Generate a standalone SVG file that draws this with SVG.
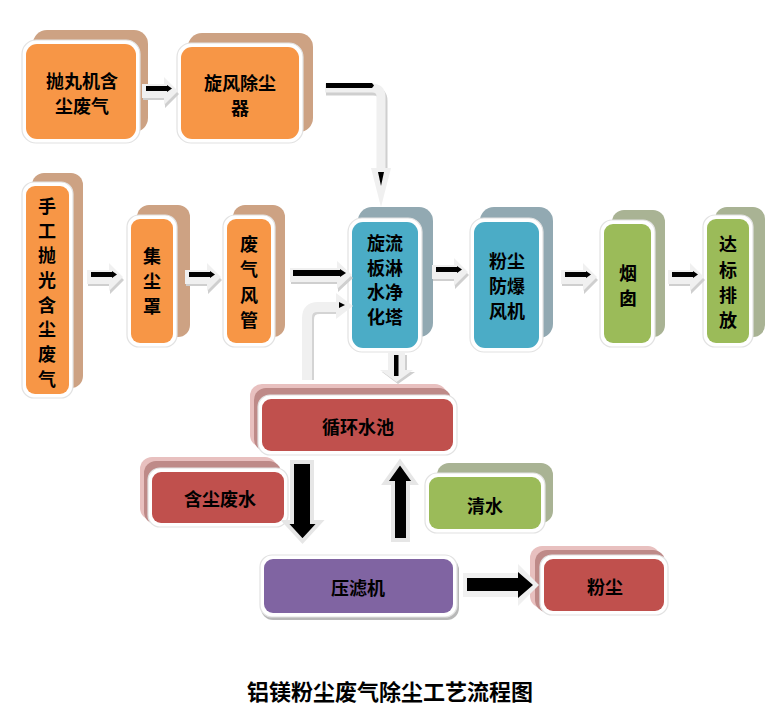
<svg xmlns="http://www.w3.org/2000/svg" width="780" height="716" viewBox="0 0 780 716">
<defs>
<style>
.t{font-family:"Noto Sans CJK SC","Noto Sans",sans-serif;font-size:18px;font-weight:bold;fill:#000;text-anchor:middle;dominant-baseline:central}
.wh{fill:#fff;stroke:#e2e2e2;stroke-width:1.2}
.or{fill:#F79646}
.orb{fill:#CDA283}
.bl{fill:#4BACC6}
.blb{fill:#92A9B2}
.gr{fill:#9BBB59}
.grb{fill:#A9B394}
.rd{fill:#C0504D}
.pk1{fill:#E8C0BF}
.pk2{fill:#BE8A88}
.pu{fill:#8064A2}
.af{fill:#f0f0f0}
.as{fill:#cfcfcf}
.ab{fill:#000}
</style>
<g id="ha">
<path class="as" d="M1,-3 H23 V-11 L37,3 L23,17 V9 H1 Z"/>
<path class="af" d="M0,-7 H22 V-14 L36,0 L22,14 V7 H0 Z"/>
<path class="ab" d="M4,-5 H25 V-6 L30,-2.5 L25,1 V0 H4 Z"/>
</g>
</defs>
<rect width="780" height="716" fill="#fff"/>

<g id="n-paowan">
<rect class="orb" x="33" y="30" width="115" height="102" rx="14"/>
<rect class="wh" x="22" y="40" width="118" height="103" rx="14"/>
<rect class="or" x="26" y="44" width="110" height="95" rx="11"/>
<text class="t" x="82" y="80">抛丸机含</text>
<text class="t" x="82" y="105">尘废气</text>
</g>

<g id="n-xuanfeng">
<rect class="orb" x="188" y="33" width="125" height="99" rx="14"/>
<rect class="wh" x="177" y="43" width="126" height="100" rx="14"/>
<rect class="or" x="181" y="47" width="118" height="92" rx="11"/>
<text class="t" x="240" y="82">旋风除尘</text>
<text class="t" x="240" y="107">器</text>
</g>

<g id="n-shougong">
<rect class="orb" x="32" y="173" width="51" height="215" rx="12"/>
<rect class="wh" x="22" y="182" width="51" height="216" rx="12"/>
<rect class="or" x="26" y="186" width="43" height="208" rx="9"/>
<text class="t" x="47" y="205">手</text>
<text class="t" x="47" y="230">工</text>
<text class="t" x="47" y="254">抛</text>
<text class="t" x="47" y="279">光</text>
<text class="t" x="47" y="304">含</text>
<text class="t" x="47" y="328">尘</text>
<text class="t" x="47" y="353">废</text>
<text class="t" x="47" y="378">气</text>
</g>

<g id="n-jichenzhao">
<rect class="orb" x="137" y="205" width="53" height="132" rx="12"/>
<rect class="wh" x="127" y="215" width="50" height="132" rx="12"/>
<rect class="or" x="131" y="219" width="42" height="124" rx="9"/>
<text class="t" x="152" y="255">集</text>
<text class="t" x="152" y="280">尘</text>
<text class="t" x="152" y="305">罩</text>
</g>

<g id="n-feiqifengguan">
<rect class="orb" x="233" y="205" width="52" height="132" rx="12"/>
<rect class="wh" x="223" y="215" width="52" height="132" rx="12"/>
<rect class="or" x="227" y="219" width="44" height="124" rx="9"/>
<text class="t" x="249" y="243">废</text>
<text class="t" x="249" y="268">气</text>
<text class="t" x="249" y="294">风</text>
<text class="t" x="249" y="319">管</text>
</g>

<g id="n-tower">
<rect class="blb" x="358" y="207" width="75" height="130" rx="14"/>
<rect class="wh" x="348" y="218" width="74" height="134" rx="14"/>
<rect class="bl" x="352" y="222" width="66" height="126" rx="11"/>
<text class="t" x="385" y="242">旋流</text>
<text class="t" x="385" y="267">板淋</text>
<text class="t" x="385" y="291">水净</text>
<text class="t" x="385" y="316">化塔</text>
</g>

<g id="n-fan">
<rect class="blb" x="480" y="207" width="73" height="131" rx="14"/>
<rect class="wh" x="470" y="218" width="73" height="134" rx="14"/>
<rect class="bl" x="474" y="222" width="65" height="126" rx="11"/>
<text class="t" x="507" y="260">粉尘</text>
<text class="t" x="507" y="285">防爆</text>
<text class="t" x="507" y="310">风机</text>
</g>

<g id="n-yancong">
<rect class="grb" x="612" y="210" width="53" height="127" rx="12"/>
<rect class="wh" x="600" y="220" width="55" height="127" rx="12"/>
<rect class="gr" x="604" y="224" width="47" height="119" rx="9"/>
<text class="t" x="628" y="272">烟</text>
<text class="t" x="628" y="297">囱</text>
</g>

<g id="n-dabiao">
<rect class="grb" x="715" y="207" width="50" height="130" rx="12"/>
<rect class="wh" x="703" y="215" width="50" height="132" rx="12"/>
<rect class="gr" x="707" y="219" width="42" height="124" rx="9"/>
<text class="t" x="728" y="243">达</text>
<text class="t" x="728" y="269">标</text>
<text class="t" x="728" y="294">排</text>
<text class="t" x="728" y="319">放</text>
</g>

<g id="n-pool">
<rect class="pk1" x="250" y="384" width="197" height="63" rx="12"/>
<rect class="pk2" x="254" y="388" width="197" height="63" rx="12"/>
<rect class="wh" x="258" y="395" width="199" height="60" rx="12"/>
<rect class="rd" x="262" y="399" width="191" height="52" rx="9"/>
<text class="t" x="358" y="426">循环水池</text>
</g>

<g id="n-wastewater">
<rect class="pk1" x="140" y="457" width="137" height="63" rx="12"/>
<rect class="pk2" x="144" y="461" width="137" height="63" rx="12"/>
<rect class="wh" x="148" y="468" width="140" height="59" rx="12"/>
<rect class="rd" x="152" y="472" width="132" height="51" rx="9"/>
<text class="t" x="220" y="498">含尘废水</text>
</g>

<g id="n-water">
<rect class="grb" x="437" y="463" width="116" height="60" rx="12"/>
<rect class="wh" x="425" y="473" width="120" height="60" rx="12"/>
<rect class="gr" x="429" y="477" width="112" height="52" rx="9"/>
<text class="t" x="485" y="505">清水</text>
</g>

<g id="n-press">
<rect x="261" y="558" width="198" height="62" rx="12" fill="#b8b8b8"/>
<rect class="wh" x="260" y="555" width="197" height="62" rx="12"/>
<rect class="pu" x="264" y="559" width="189" height="54" rx="9"/>
<text class="t" x="358" y="587">压滤机</text>
</g>

<g id="n-dust">
<rect class="pk1" x="530" y="546" width="130" height="62" rx="12"/>
<rect class="pk2" x="535" y="550" width="130" height="62" rx="12"/>
<rect class="wh" x="540" y="555" width="128" height="60" rx="12"/>
<rect class="rd" x="544" y="559" width="120" height="52" rx="9"/>
<text class="t" x="605" y="586">粉尘</text>
</g>

<g id="connectors">
<use href="#ha" transform="translate(142,91)"/>
<use href="#ha" transform="translate(87,277)"/>
<use href="#ha" transform="translate(185,277)"/>
<use href="#ha" transform="translate(432,272)"/>
<use href="#ha" transform="translate(561,277)"/>
<use href="#ha" transform="translate(668,277)"/>
<path class="as" d="M291,272 H338 V264 L353,278 L338,292 V284 H291 Z"/>
<path class="af" d="M290,268 H337 V261 L352,275 L337,289 V282 H290 Z"/>
<path class="ab" d="M293,270 H340 V269 L346,273 L340,277 V276 H293 Z"/>
<path d="M326,91 H373 Q383,91 383,101 V172" fill="none" stroke="#cfcfcf" stroke-width="9"/>
<path d="M325,88 H372 Q381,88 381,97 V172" fill="none" stroke="#f0f0f0" stroke-width="9"/>
<path class="af" d="M371,168 L391,168 L381,207 Z"/>
<path class="ab" d="M326,83 H372 L374,85.5 L372,88 H326 Z"/>
<path class="ab" d="M378,172 L384,172 L381,186 Z"/>
<path d="M309,380 V320 Q309,309 320,309 H338" fill="none" stroke="#d4d4d4" stroke-width="10"/>
<path d="M307,380 V318 Q307,307 318,307 H338" fill="none" stroke="#f0f0f0" stroke-width="10"/>
<path class="af" d="M336,293 L353,306 L336,319 Z"/>
<path class="ab" d="M339,302 L345,305 L339,308 Z"/>
<path class="as" d="M390,355 H407 V372 H415 L398,384 L382,372 H390 Z"/>
<path class="af" d="M388,353 H405 V370 H413 L396.5,382 L380,370 H388 Z"/>
<rect class="ab" x="394" y="355" width="4.5" height="21"/>
<path d="M292,462 H312 V522 H320 L302.5,541 L285,522 H292 Z" fill="#000" stroke="#e6e6e6" stroke-width="4" stroke-linejoin="miter"/>
<path d="M393,540 V483 H385 L400,462 L415,483 H408 V540 Z" fill="#000" stroke="#e6e6e6" stroke-width="4" stroke-linejoin="miter"/>
<path class="af" d="M463,573 H518 V564 L539,585 L518,606 V597 H463 Z"/>
<path class="ab" d="M467,578 H518 V572 L533,585 L518,598 V591 H467 Z"/>
</g>

<text x="390" y="690" style="font-family:'Noto Sans CJK SC',sans-serif;font-size:22px;font-weight:bold;text-anchor:middle;dominant-baseline:central">铝镁粉尘废气除尘工艺流程图</text>
</svg>
